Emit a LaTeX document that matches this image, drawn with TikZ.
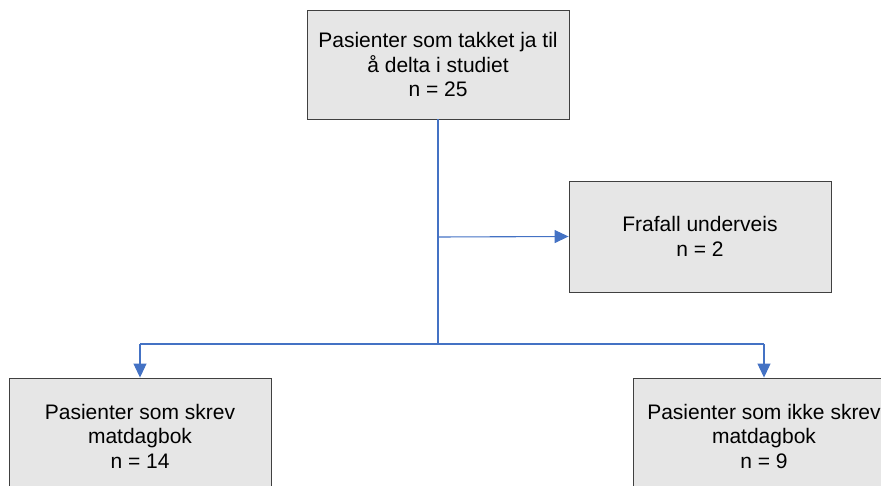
\documentclass[tikz,border=0pt]{standalone}
\usepackage{fontspec}
\setmainfont{Liberation Sans}
\usepackage{tikz}
\usetikzlibrary{arrows.meta}

\definecolor{boxfill}{RGB}{230,230,230}
\definecolor{boxline}{RGB}{64,64,64}
\definecolor{flowblue}{RGB}{68,114,196}

\tikzset{
    flowbox/.style={draw=boxline, fill=boxfill, line width=0.9pt,
        minimum width=262pt, align=center, inner sep=0pt,
        font=\fontsize{21}{24.5}\selectfont},
    flowline/.style={draw=flowblue, line width=1.1pt},
    flowarrow/.style={flowline, -{Triangle[length=14pt,width=13pt]}}
}

\begin{document}
\begin{tikzpicture}[x=1pt,y=-1pt]
        \useasboundingbox (0,0) rectangle (881,486);
        \clip (0,0) rectangle (881,486);

        % The top box
        \node[flowbox, minimum height=109pt] (start) at (438,64.5)
            {Pasienter som takket ja til\\å delta i studiet\\n = 25};

        % The drop-out box
        \node[flowbox, minimum height=111pt] (dropout) at (700,236.5)
            {Frafall underveis\\n = 2};

        % Bottom boxes
        \node[flowbox, minimum height=116pt] (diary) at (140,436)
            {Pasienter som skrev\\matdagbok\\n = 14};
        \node[flowbox, minimum height=116pt] (nodiary) at (764,436)
            {Pasienter som ikke skrev\\matdagbok\\n = 9};

        % Branch points
        \coordinate (split) at (438,237);
        \coordinate (fork) at (438,344);
        \coordinate (forkleft) at (140,344);
        \coordinate (forkright) at (764,344);

        % Edges
        \draw[flowline] (start.south) -- (fork);
        \draw[flowarrow] (split) -- (dropout.west);
        \draw[flowline] (forkleft) -- (forkright);
        \draw[flowarrow] (forkleft) -- (diary.north);
        \draw[flowarrow] (forkright) -- (nodiary.north);

    \end{tikzpicture}
\end{document}
